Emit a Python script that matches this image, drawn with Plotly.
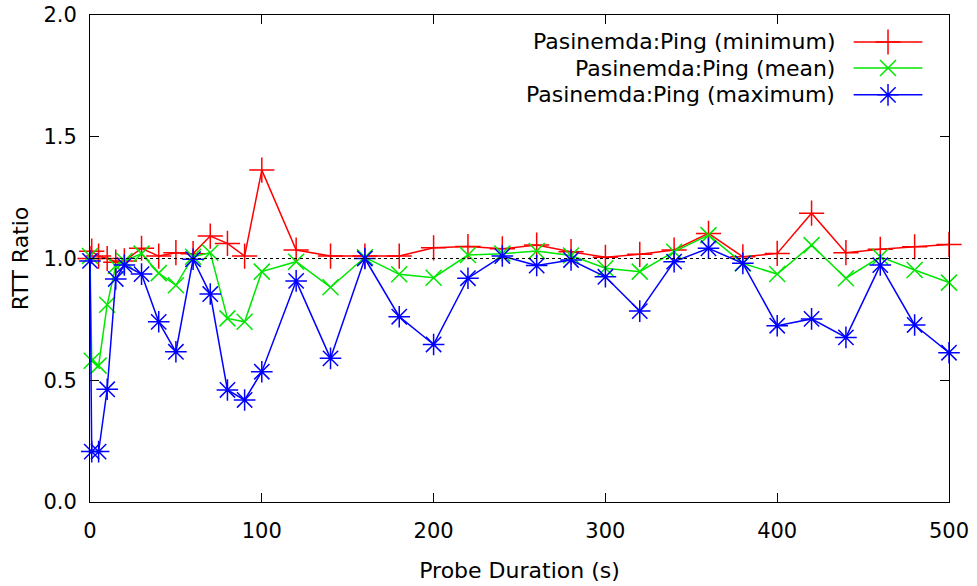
import plotly.graph_objects as go

# ---------------- data ----------------
probe_duration = [0, 1, 5, 10, 15, 20, 30, 40, 50, 60, 70, 80, 90, 100,
                  120, 140, 160, 180, 200, 220, 240, 260, 280, 300, 320,
                  340, 360, 380, 400, 420, 440, 460, 480, 500]

rtt_min = [1.00, 1.03, 1.01, 1.00, 0.985, 0.99, 1.042, 1.01, 1.024, 1.02,
           1.092, 1.062, 1.01, 1.363, 1.035, 1.01, 1.01, 1.01, 1.044, 1.049,
           1.04, 1.055, 1.028, 1.005, 1.017, 1.035, 1.103, 1.007, 1.021,
           1.186, 1.024, 1.038, 1.048, 1.058]

rtt_mean = [1.01, 0.58, 0.56, 0.81, 0.97, 0.99, 1.02, 0.94, 0.89, 1.007,
            1.024, 0.754, 0.74, 0.946, 0.987, 0.882, 1.005, 0.935, 0.921,
            1.014, 1.02, 1.031, 1.012, 0.96, 0.946, 1.028, 1.096, 0.98,
            0.936, 1.055, 0.919, 1.007, 0.953, 0.901]

rtt_max = [0.99, 0.207, 0.207, 0.463, 0.916, 0.973, 0.936, 0.74, 0.617,
           0.997, 0.854, 0.46, 0.419, 0.535, 0.908, 0.59, 1.0, 0.761, 0.647,
           0.919, 1.01, 0.971, 0.994, 0.925, 0.784, 0.987, 1.042, 0.98,
           0.724, 0.752, 0.676, 0.973, 0.727, 0.613]

series_names = ["Pasinemda:Ping (minimum)", "Pasinemda:Ping (mean)",
                "Pasinemda:Ping (maximum)"]
reference_ratio = 1.0

x_ticks = [0, 100, 200, 300, 400, 500]
y_ticks = [0.0, 0.5, 1.0, 1.5, 2.0]

# ---------------- style ----------------
FONT = "DejaVu Sans"
FS_TICK = 21
FS_TEXT = 22
colors = ["#ff0000", "#00e600", "#0000ff"]
symbols = ["cross-thin", "x-thin", "asterisk"]
msizes = [18, 16, 18]

fig = go.Figure()

for name, ys, c, s, ms in zip(series_names, [rtt_min, rtt_mean, rtt_max],
                              colors, symbols, msizes):
    fig.add_trace(go.Scatter(
        x=probe_duration, y=ys, mode="lines+markers", name=name,
        line=dict(color=c, width=1.5),
        marker=dict(symbol=s, size=ms, color=c, line=dict(color=c, width=1.5)),
        cliponaxis=False, showlegend=False, xaxis="x", yaxis="y",
    ))

# reference dotted line at ratio 1
fig.add_shape(type="line", xref="x", yref="y",
              x0=x_ticks[0], x1=x_ticks[-1], y0=reference_ratio, y1=reference_ratio,
              line=dict(color="black", width=1, dash="dot"))

# gnuplot-style legend (text left, sample right) on an overlay axis
leg_text_x = 0.870
leg_x0, leg_x1 = 0.889, 0.969
leg_rows = [0.9446, 0.891, 0.836]
for name, c, s, ms, ry in zip(series_names, colors, symbols, msizes, leg_rows):
    fig.add_trace(go.Scatter(
        x=[leg_x0, leg_x1], y=[ry, ry], mode="lines",
        line=dict(color=c, width=1.5), showlegend=False, hoverinfo="skip",
        xaxis="x2", yaxis="y2"))
    fig.add_trace(go.Scatter(
        x=[(leg_x0 + leg_x1) / 2], y=[ry], mode="markers",
        marker=dict(symbol=s, size=ms, color=c, line=dict(color=c, width=1.5)),
        showlegend=False, hoverinfo="skip", xaxis="x2", yaxis="y2"))
    fig.add_annotation(xref="paper", yref="paper", x=leg_text_x, y=ry,
                       text=name, showarrow=False, xanchor="right",
                       yanchor="middle",
                       font=dict(family=FONT, size=FS_TEXT, color="black"))

axis_common = dict(showline=True, linecolor="black", linewidth=1, mirror="ticks",
                   ticks="inside", ticklen=9, tickcolor="black", tickwidth=1,
                   showgrid=False, zeroline=False, automargin=False,
                   ticklabeloverflow="allow",
                   tickfont=dict(family=FONT, size=FS_TICK, color="black"))

fig.update_layout(
    width=977, height=586,
    margin=dict(l=90, r=28, t=15, b=84),
    paper_bgcolor="white", plot_bgcolor="white",
    font=dict(family=FONT, size=FS_TICK, color="black"),
    xaxis=dict(range=[0, 500], tickvals=x_ticks,
               title=dict(text="Probe Duration (s)", standoff=20,
                          font=dict(family=FONT, size=FS_TEXT)),
               ticklabelstandoff=10, **axis_common),
    yaxis=dict(range=[0, 2], tickvals=y_ticks, tickformat=".1f",
               title=dict(text="RTT Ratio", standoff=8,
                          font=dict(family=FONT, size=FS_TEXT)),
               ticklabelstandoff=8, **axis_common),
    xaxis2=dict(range=[0, 1], overlaying="x", visible=False, fixedrange=True),
    yaxis2=dict(range=[0, 1], overlaying="y", visible=False, fixedrange=True),
    showlegend=False,
)

fig.write_html("out.html")
